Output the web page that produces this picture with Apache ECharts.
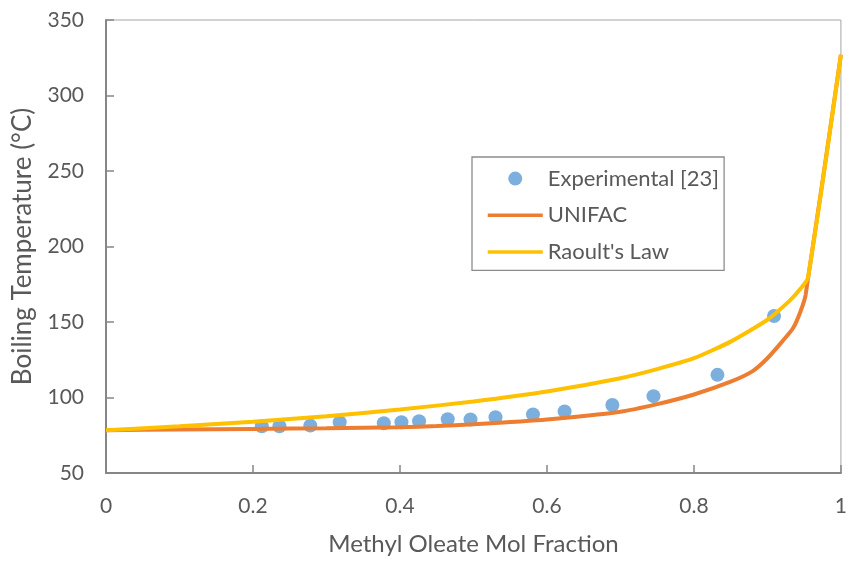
<!DOCTYPE html>
<html>
<head>
<meta charset="utf-8">
<script src="https://cdn.jsdelivr.net/npm/echarts@6/dist/echarts.min.js"></script>
<style>
  html, body { margin: 0; padding: 0; background: #fff; }
  #chart { width: 850px; height: 561px; }
</style>
</head>
<body>
<div id="chart"></div>
<script>
// Methyl oleate mole fraction vs. boiling temperature
const expX = [0.212, 0.236, 0.278, 0.318, 0.378, 0.402, 0.426, 0.465, 0.496, 0.530, 0.581, 0.624, 0.689, 0.745, 0.832, 0.909];
const expT = [81.0, 81.0, 81.4, 83.6, 82.9, 83.6, 84.3, 85.6, 85.4, 86.9, 88.8, 90.8, 95.0, 100.9, 115.0, 154.0];

const unifacX = [0, 0.1, 0.2, 0.3, 0.4, 0.45, 0.5, 0.6, 0.7, 0.75, 0.8, 0.85, 0.88, 0.9, 0.92, 0.935, 0.945, 0.952, 1.0];
const unifacT = [78.3, 78.8, 79.2, 79.6, 80.3, 81.1, 82.3, 85.5, 90.6, 95.6, 102, 110.5, 117.5, 126, 137, 146, 157, 168, 327];

const raoultX = [0, 0.1, 0.2, 0.3, 0.4, 0.5, 0.6, 0.7, 0.75, 0.8, 0.85, 0.9, 0.93, 0.945, 0.955, 1.0];
const raoultT = [78.3, 80.9, 84.0, 87.6, 92.0, 97.4, 104.0, 112.8, 118.8, 126.0, 137.0, 151.5, 164.0, 172.0, 179.0, 327];

const xTicks = [0, 0.2, 0.4, 0.6, 0.8, 1];
const yTicks = [50, 100, 150, 200, 250, 300, 350];

const pairs = (xs, ys) => xs.map((x, i) => [x, ys[i]]);

const font = 'Lato, "Open Sans", sans-serif';
const textColor = '#595959';
const axisColor = '#868686';

const chart = echarts.init(document.getElementById('chart'), null, { renderer: 'canvas' });
chart.setOption({
  animation: false,
  backgroundColor: '#ffffff',
  grid: {
    left: 106, right: 5, top: 20, bottom: 83,
    show: true, borderColor: '#a6a6a6', borderWidth: 1
  },
  legend: {
    left: 472, top: 157,
    orient: 'vertical',
    itemWidth: 55, itemHeight: 14, itemGap: 14.7,
    padding: [10.6, 5, 7.3, 14],
    borderColor: '#8c8c8c', borderWidth: 1.3,
    backgroundColor: '#ffffff',
    lineStyle: { width: 3.5 },
    textStyle: { fontFamily: font, fontSize: 22, color: textColor, lineHeight: 22 },
    data: [
      { name: 'Experimental [23]' },
      { name: 'UNIFAC', itemStyle: { color: 'rgba(0,0,0,0)', opacity: 0 } },
      { name: "Raoult's Law", itemStyle: { color: 'rgba(0,0,0,0)', opacity: 0 } }
    ]
  },
  xAxis: {
    type: 'value', min: xTicks[0], max: xTicks[xTicks.length - 1], interval: 0.2,
    name: 'Methyl Oleate Mol Fraction', nameLocation: 'middle', nameGap: 59,
    nameTextStyle: { fontFamily: font, fontSize: 24, color: textColor },
    axisLine: { lineStyle: { color: axisColor, width: 2 } },
    axisTick: { inside: true, length: 8, lineStyle: { color: axisColor, width: 1.5 } },
    axisLabel: { fontFamily: font, fontSize: 21, color: textColor, margin: 23,
      formatter: v => String(Math.round(v * 10) / 10) },
    splitLine: { show: false }
  },
  yAxis: {
    type: 'value', min: yTicks[0], max: yTicks[yTicks.length - 1], interval: 50,
    name: 'Boiling Temperature (°C)', nameLocation: 'middle', nameGap: 70,
    nameTextStyle: { fontFamily: font, fontSize: 26, color: textColor },
    axisLine: { lineStyle: { color: axisColor, width: 2 } },
    axisTick: { inside: true, length: 8, lineStyle: { color: axisColor, width: 1.5 } },
    axisLabel: { fontFamily: font, fontSize: 21, color: textColor, margin: 22 },
    splitLine: { show: false }
  },
  series: [
    {
      name: 'Experimental [23]', type: 'scatter',
      symbol: 'circle', symbolSize: 14,
      itemStyle: { color: '#5b9bd5' },
      data: pairs(expX, expT), z: 2
    },
    {
      name: 'UNIFAC', type: 'line', symbol: 'none', smooth: 0.2,
      lineStyle: { color: '#ed7d31', width: 4 }, itemStyle: { color: '#ed7d31' },
      data: pairs(unifacX, unifacT), z: 3
    },
    {
      name: "Raoult's Law", type: 'line', symbol: 'none', smooth: 0.2,
      lineStyle: { color: '#ffc000', width: 4 }, itemStyle: { color: '#ffc000' },
      data: pairs(raoultX, raoultT), z: 4
    }
  ]
});
</script>
</body>
</html>
